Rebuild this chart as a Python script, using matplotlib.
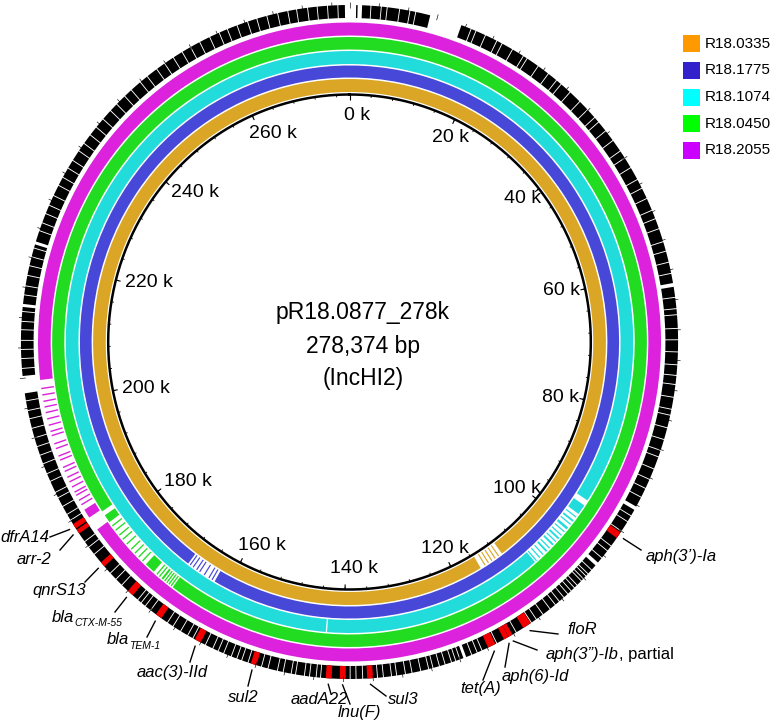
import numpy as np
import matplotlib.pyplot as plt
from matplotlib.patches import Rectangle

plt.rcParams['font.family'] = ['Liberation Sans', 'DejaVu Sans']

# plasmid info
plasmid_name = "pR18.0877_278k"
plasmid_len = 278374
plasmid_type = "(IncHI2)"
L = plasmid_len / 1000.0  # kb

# BLAST rings, inner -> outer
ring_names = ["R18.0335", "R18.1775", "R18.1074", "R18.0450", "R18.2055"]
ring_colors = ["#DBA526", "#4848D8", "#22DCDC", "#22DC22", "#DC22DC"]
legend_colors = ["#FF9900", "#3322CC", "#00FFFF", "#00FF00", "#CC00FF"]

# covered segments (kb) per ring
seg_0335 = [(0, 111.0), (111.6, 111.8), (112.3, 112.5), (113.0, 113.2), (113.7, 113.9),
            (114.4, 114.6), (115.4, L)]
seg_1775 = [(0, 162.4), (162.8, 163.0), (163.4, 163.6), (164.3, 164.5), (165.2, 165.4),
            (165.8, 166.0), (166.5, 166.7), (167.1, 167.3), (167.6, L)]
seg_1074 = [(0, 95.1), (96.0, 97.6), (98.1, 98.3), (98.8, 99.1), (99.5, 99.7), (100.2, 100.6),
            (101.0, 101.2), (101.7, 101.9), (102.3, 102.6), (103.0, 103.2), (103.6, 103.9),
            (104.4, 104.6), (105.0, 105.3), (105.8, 106.0), (106.5, 106.7), (107.2, 107.4),
            (107.6, 142.7), (142.9, L)]
seg_0450 = [(0, 167.4), (167.6, 167.8), (168.0, 168.2), (168.4, 168.6), (168.8, 169.0),
            (169.2, 169.5), (169.8, 170.0), (170.3, 170.5), (171.0, 172.6), (173.2, 173.4),
            (174.0, 174.2), (174.8, 175.0), (175.6, 175.8), (176.6, 176.8), (177.5, 177.7),
            (178.3, 178.5), (179.2, 179.4), (180.0, 180.2), (180.8, 182.0), (182.7, L)]
seg_2055 = [(0, 181.0), (183.0, 184.3), (185.0, 185.2), (185.7, 185.9), (186.5, 186.7),
            (187.0, 187.2), (187.8, 188.0), (188.6, 188.8), (189.3, 189.5), (190.2, 190.4),
            (190.8, 191.0), (191.9, 192.1), (192.5, 192.7), (193.6, 193.8), (194.3, 194.5),
            (195.5, 195.7), (196.1, 196.3), (197.0, 197.2), (197.9, 198.1), (198.8, 199.0),
            (199.6, 199.8), (200.4, 200.6), (201.3, 201.5), (202.2, 202.4), (203.5, L)]
ring_segs = [seg_0335, seg_1775, seg_1074, seg_0450, seg_2055]

# annotation ring: white gaps and gene boundaries (kb)
feat_gaps = [(277.75, L), (0, 0.9), (1.1, 1.7), (11.0, 15.4), (61.8, 62.3), (92.2, 92.7),
             (101.2, 101.7), (123.1, 123.5), (202.0, 204.3), (213.4, 213.8), (221.8, 222.2)]
feat_breaks = [2.9, 4.3, 5.1, 6.8, 8.2, 9.0, 16.8, 17.5, 18.9,
               20.6, 21.4, 23.0, 24.7, 25.3, 27.1, 28.8, 30.2, 31.0, 32.6, 34.4, 35.9, 37.3, 38.1, 39.6,
               41.2, 42.9, 44.0, 45.5, 47.3, 48.6, 50.1, 51.8, 53.0, 54.4, 56.2, 57.5, 59.0,
               60.5, 63.7, 65.2, 66.0, 67.8, 69.3, 70.9, 72.6, 74.0, 75.2, 76.9, 78.5, 79.3,
               81.0, 82.6, 84.1, 85.0, 86.7, 88.2, 89.5, 90.8, 93.6, 94.5, 96.0, 98.4, 99.2,
               100.4, 102.5, 103.2, 103.6, 104.1, 104.5, 105.3, 105.8, 106.4, 107.0, 107.7, 108.5,
               109.2, 110.1, 111.3, 112.4, 113.2, 115.6, 118.6, 120.8, 121.5, 122.3,
               124.0, 124.6, 125.2, 126.1, 126.9, 127.8, 128.4, 129.5, 130.7, 131.6, 132.8, 133.5,
               134.6, 135.4, 137.4, 138.3, 139.1, 143.1, 143.7, 144.6, 145.3, 146.5, 147.1, 148.2,
               149.0, 150.3, 151.2, 153.1, 154.0, 154.7, 155.5, 156.6, 157.4, 158.2, 159.3,
               161.2, 162.0, 163.1, 164.3, 165.2, 168.0, 168.9, 169.6, 170.2, 173.1, 174.2,
               175.3, 178.6, 179.8, 180.7, 184.1, 185.0, 186.2, 187.5, 188.3, 189.9, 191.0, 192.4,
               193.6, 194.8, 196.0, 197.3, 198.6, 199.7, 201.0, 205.3, 206.6, 207.8, 209.0, 210.4,
               211.5, 212.8, 215.0, 216.2, 217.6, 218.9, 220.1, 221.3, 223.7, 224.8, 226.1, 227.3,
               228.7, 230.2, 231.4, 232.8, 234.0, 235.5, 236.7, 238.1, 239.4, 240.8, 242.3, 243.5,
               245.0, 246.2, 247.8, 249.0, 250.6, 251.9, 253.3, 254.7, 256.0, 257.4, 258.9, 260.3,
               261.5, 262.9, 264.4, 265.7, 267.1, 268.6, 270.0, 271.2, 272.7, 274.0, 275.4, 276.8]

# resistance genes (red)
arg_names = ["aph(3’)-Ia", "floR", "aph(3”)-Ib", "aph(6)-Id", "tet(A)", "sul3", "lnu(F)", "aadA22",
             "sul2", "aac(3)-IId", "bla", "bla", "qnrS13", "arr-2", "dfrA14"]
arg_sub = ["", "", "", "", "", "", "", "", "", "", "TEM-1", "CTX-M-55", "", "", ""]
arg_plain = ["", "", ", partial", "", "", "", "", "", "", "", "", "", "", "", ""]
arg_start = [96.2, 113.3, 116.2, 116.8, 118.8, 136.0, 139.7, 141.6, 151.9, 160.0, 166.2, 171.1,
             176.5, 182.0, 182.8]
arg_end = [97.1, 114.5, 116.8, 117.5, 119.9, 136.8, 140.5, 142.4, 152.7, 160.9, 167.1, 172.0,
           177.2, 182.6, 183.5]

# label layout (pixels): text left x, text centre y, leader end
lab_x = [646, 567, 546, 502, 460, 388, 338, 291, 228, 137, 107, 52, 32, 17, 0]
lab_y = [557, 630, 655, 677, 688, 700, 712, 700, 697, 672, 640, 617, 591, 559, 537]
lead_end = [(641, 550), (558, 634), (537, 650), (505, 667), (483, 680), (386, 696), (350, 704),
            (331, 694), (248, 686), (190, 662), (147, 637), (115, 612), (85, 582), (60, 550),
            (50, 537)]

# geometry
W, H = 771, 724
CX, CY = 349.5, 342.0
SX = 0.975
RMAX = 345.0
R_BB = 247.5
ring_r = [(250, 263), (264.5, 276.5), (278, 291), (292.5, 305), (306.5, 319.5)]
FEAT = (324, 337)


def th(kb):
    return 2 * np.pi * np.asarray(kb) / L


def to_px(kb, r):
    phi = th(kb)
    return CX + r * SX * np.sin(phi), CY - r * np.cos(phi)


fig = plt.figure(figsize=(W / 100, H / 100), dpi=100)
ax = fig.add_axes([(CX - RMAX * SX) / W, (H - CY - RMAX) / H, 2 * RMAX * SX / W, 2 * RMAX / H],
                  projection='polar')
ax.set_theta_zero_location('N')
ax.set_theta_direction(-1)
ax.set_ylim(0, RMAX)
ax.set_aspect('auto')
ax.axis('off')


def draw_segs(segs, r0, r1, color, z=2):
    segs = list(segs)
    # join the piece crossing the origin so no seam shows at 0 k
    if len(segs) > 1 and segs[0][0] == 0 and segs[-1][1] == L:
        segs = segs[1:-1] + [(segs[-1][0], L + segs[0][1])]
    s = np.array(segs, dtype=float)
    ax.bar(th(s[:, 0]), r1 - r0, width=th(s[:, 1]) - th(s[:, 0]), bottom=r0,
           align='edge', color=color, linewidth=0, zorder=z)


for segs, (r0, r1), col in zip(ring_segs, ring_r, ring_colors):
    draw_segs(segs, r0, r1, col)

# annotation ring: black genes
white = sorted(feat_gaps + [(b - 0.06, b + 0.06) for b in feat_breaks])
black = []
pos = 0.0
for a, b in white:
    if a > pos:
        black.append((pos, a))
    pos = max(pos, b)
if pos < L:
    black.append((pos, L))
draw_segs(black, FEAT[0], FEAT[1], 'black')
draw_segs(list(zip(arg_start, arg_end)), FEAT[0], FEAT[1], '#F00000', z=3)

# outer scale ticks
ot = np.arange(0, L, 4)
ax.vlines(th(ot), 334, 340, color='black', lw=0.45, zorder=4)

# backbone circle with ticks
tt = np.linspace(0, 2 * np.pi, 721)
ax.plot(tt, np.full_like(tt, R_BB), color='black', lw=1.8, zorder=5)
minor = np.arange(0, L, 4)
ax.vlines(th(minor), R_BB - 2.5, R_BB, color='black', lw=0.6, zorder=5)
major = np.arange(0, 261, 20)
ax.vlines(th(major), R_BB - 5, R_BB, color='black', lw=0.8, zorder=5)

# overlay in pixel coordinates for texts
ov = fig.add_axes([0, 0, 1, 1])
ov.set_xlim(0, W)
ov.set_ylim(H, 0)
ov.axis('off')
ov.patch.set_visible(False)
renderer = fig.canvas.get_renderer()

for k in major:
    t = ov.text(0, 0, f"{k} k", fontsize=14, ha='center', va='center')
    w = t.get_window_extent(renderer).width
    phi = th(k)
    s, c = np.sin(phi), np.cos(phi)
    xt, yt = to_px(k, R_BB)
    dx = -s * (w / 2 + 8) + 8 * abs(c)
    dy = 21 * c * np.sqrt(abs(c))
    t.set_position((xt + dx, yt + dy))

ov.text(363, 312, plasmid_name, fontsize=16.5, ha='center', va='center')
ov.text(363, 347, f"{plasmid_len:,} bp", fontsize=16.5, ha='center', va='center')
ov.text(363, 379, plasmid_type, fontsize=16.5, ha='center', va='center')

# legend
for i, (nm, col) in enumerate(zip(ring_names, legend_colors)):
    y0 = 35 + i * 26.75
    ov.add_patch(Rectangle((683, y0), 17, 17, color=col, lw=0))
    ov.text(705, y0 + 8.5, nm, fontsize=11, ha='left', va='center')

# gene labels and leader lines
for i, nm in enumerate(arg_names):
    mid = (arg_start[i] + arg_end[i]) / 2
    x1, y1 = to_px(mid, 343)
    x2, y2 = lead_end[i]
    ov.plot([x1, x2], [y1, y2], color='black', lw=1.0)
    t = ov.text(lab_x[i], lab_y[i], nm, fontsize=12, style='italic', ha='left', va='center')
    xe = t.get_window_extent(renderer).x1
    if arg_sub[i]:
        ov.text(xe, lab_y[i] + 6, arg_sub[i], fontsize=7.5, style='italic', ha='left', va='center')
    if arg_plain[i]:
        ov.text(xe, lab_y[i], arg_plain[i], fontsize=12, ha='left', va='center')

fig.savefig('out.png', dpi=100)
